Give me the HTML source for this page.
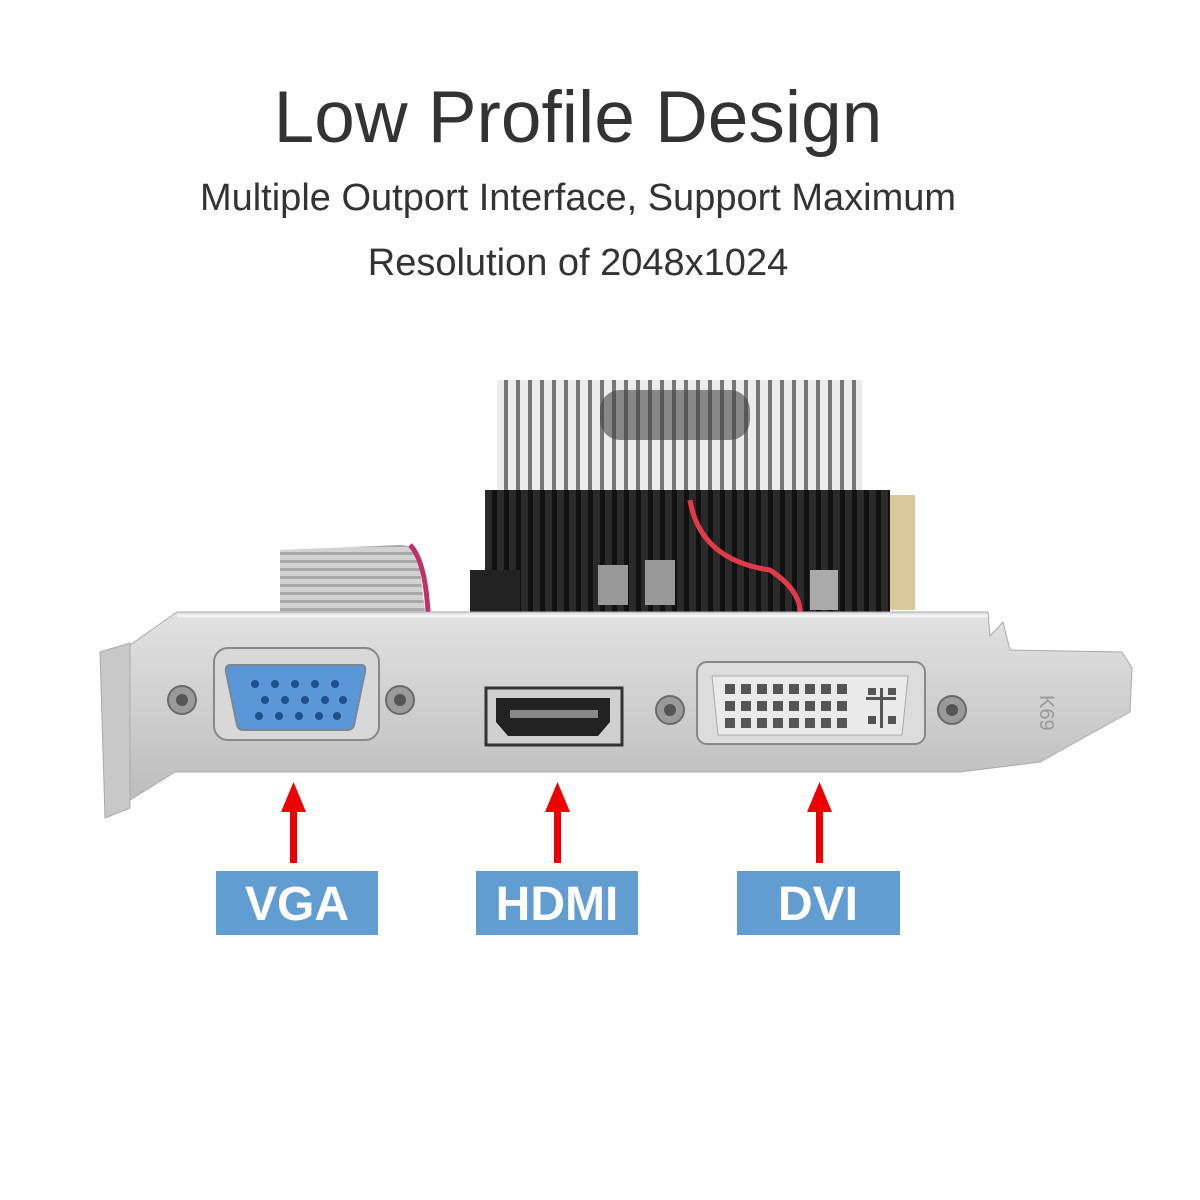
<!DOCTYPE html>
<html><head><meta charset="utf-8"><style>
html,body{margin:0;padding:0;background:#fff;}
body{width:1200px;height:1200px;position:relative;overflow:hidden;font-family:"Liberation Sans",sans-serif;}
.t{position:absolute;left:0;width:1156px;text-align:center;color:#333;}
</style></head><body>
<div class="t" style="top:76px;font-size:73px;">Low Profile Design</div>
<div class="t" style="top:177px;font-size:38px;">Multiple Outport Interface, Support Maximum</div>
<div class="t" style="top:242px;font-size:38px;">Resolution of 2048x1024</div>
<svg width="1200" height="1200" style="position:absolute;left:0;top:0">
<defs>
<pattern id="fins" width="12" height="10" patternUnits="userSpaceOnUse"><rect width="12" height="10" fill="#2a2a2a"/><rect x="0" width="5" height="10" fill="#111"/></pattern>
<pattern id="fins2" width="12" height="10" patternUnits="userSpaceOnUse"><rect width="12" height="10" fill="#ececec"/><rect x="0" width="4" height="10" fill="#777"/></pattern>
<linearGradient id="br" x1="0" y1="0" x2="0" y2="1"><stop offset="0" stop-color="#e2e2e2"/><stop offset="0.5" stop-color="#cfcfcf"/><stop offset="1" stop-color="#bdbdbd"/></linearGradient>
<pattern id="rib" width="8" height="8" patternUnits="userSpaceOnUse"><rect width="8" height="8" fill="#d2d2d2"/><rect width="8" height="3" fill="#a8a8a8"/></pattern>
</defs>
<path d="M280 550 L400 545 Q420 545 420 570 L425 612 L280 612 Z" fill="url(#rib)"/>
<path d="M410 545 Q425 560 428 612" stroke="#c0306a" stroke-width="5" fill="none"/>
<rect x="497" y="380" width="365" height="115" fill="url(#fins2)"/>
<rect x="600" y="390" width="150" height="50" rx="20" fill="#444" opacity="0.6"/>
<rect x="485" y="490" width="405" height="122" fill="url(#fins)"/>
<rect x="890" y="495" width="25" height="115" fill="#d9c99a"/>
<rect x="470" y="570" width="50" height="42" fill="#222"/>
<path d="M690 500 Q700 560 770 570 Q800 590 800 612" stroke="#e23a4a" stroke-width="5" fill="none"/>
<rect x="598" y="565" width="30" height="40" fill="#999"/>
<rect x="645" y="560" width="30" height="45" fill="#999"/>
<rect x="810" y="570" width="28" height="40" fill="#aaa"/>
<polygon points="100,652 130,643 130,808 105,818" fill="#c8c8c8" stroke="#aaa"/>
<polygon points="130,645 177,612 988,612 990,636 1003,622 1010,650 1122,652 1132,668 1130,712 1040,762 960,772 175,772 130,800" fill="url(#br)" stroke="#aaa"/>
<line x1="177" y1="616" x2="988" y2="616" stroke="#f3f3f3" stroke-width="3"/>
<text x="1040" y="695" font-size="20" fill="#999" transform="rotate(90 1040 695)">K69</text>
<g fill="#9a9a9a" stroke="#6a6a6a" stroke-width="2">
<circle cx="182" cy="700" r="14"/><circle cx="400" cy="700" r="14"/><circle cx="670" cy="710" r="14"/><circle cx="952" cy="710" r="14"/></g>
<g fill="#555"><circle cx="182" cy="700" r="6"/><circle cx="400" cy="700" r="6"/><circle cx="670" cy="710" r="6"/><circle cx="952" cy="710" r="6"/></g>
<rect x="214" y="648" width="165" height="92" rx="14" fill="#d8d8d8" stroke="#888" stroke-width="2"/>
<path d="M230 665 L362 665 Q366 665 365 672 L354 725 Q353 730 346 730 L244 730 Q238 730 237 725 L226 672 Q225 665 230 665Z" fill="#5a97d6" stroke="#7b8796" stroke-width="2"/>
<g fill="#1d4f8c">
<circle cx="255" cy="684" r="4"/><circle cx="275" cy="684" r="4"/><circle cx="295" cy="684" r="4"/><circle cx="315" cy="684" r="4"/><circle cx="335" cy="684" r="4"/>
<circle cx="265" cy="700" r="4"/><circle cx="285" cy="700" r="4"/><circle cx="305" cy="700" r="4"/><circle cx="325" cy="700" r="4"/><circle cx="343" cy="700" r="4"/>
<circle cx="259" cy="716" r="4"/><circle cx="279" cy="716" r="4"/><circle cx="299" cy="716" r="4"/><circle cx="319" cy="716" r="4"/><circle cx="337" cy="716" r="4"/></g>
<rect x="486" y="688" width="136" height="57" fill="#d0d0d0" stroke="#333" stroke-width="3"/>
<path d="M496 698 L610 698 L610 722 L598 736 L508 736 L496 722Z" fill="#222"/>
<rect x="510" y="710" width="88" height="8" fill="#888"/>
<rect x="697" y="662" width="228" height="82" rx="10" fill="#dcdcdc" stroke="#888" stroke-width="2"/>
<path d="M712 676 L908 676 L902 735 L718 735Z" fill="#eaeaea" stroke="#aaa"/>
<g fill="#555">
<rect x="725" y="684" width="10" height="10"/><rect x="741" y="684" width="10" height="10"/><rect x="757" y="684" width="10" height="10"/><rect x="773" y="684" width="10" height="10"/><rect x="789" y="684" width="10" height="10"/><rect x="805" y="684" width="10" height="10"/><rect x="821" y="684" width="10" height="10"/><rect x="837" y="684" width="10" height="10"/>
<rect x="725" y="701" width="10" height="10"/><rect x="741" y="701" width="10" height="10"/><rect x="757" y="701" width="10" height="10"/><rect x="773" y="701" width="10" height="10"/><rect x="789" y="701" width="10" height="10"/><rect x="805" y="701" width="10" height="10"/><rect x="821" y="701" width="10" height="10"/><rect x="837" y="701" width="10" height="10"/>
<rect x="725" y="718" width="10" height="10"/><rect x="741" y="718" width="10" height="10"/><rect x="757" y="718" width="10" height="10"/><rect x="773" y="718" width="10" height="10"/><rect x="789" y="718" width="10" height="10"/><rect x="805" y="718" width="10" height="10"/><rect x="821" y="718" width="10" height="10"/><rect x="837" y="718" width="10" height="10"/>
<rect x="866" y="697" width="30" height="3"/><rect x="880" y="688" width="3" height="40"/>
<rect x="868" y="688" width="8" height="7"/><rect x="888" y="688" width="8" height="7"/><rect x="868" y="716" width="8" height="8"/><rect x="888" y="716" width="8" height="8"/></g>
<g fill="#ee0000">
<rect x="290" y="805" width="7" height="58"/><polygon points="281,812 293.5,782 306,812"/>
<rect x="554" y="805" width="7" height="58"/><polygon points="545,812 557.5,782 570,812"/>
<rect x="816" y="805" width="7" height="58"/><polygon points="807,812 819.5,782 832,812"/>
</g>
<g fill="#629dd2"><rect x="216" y="871" width="162" height="64"/><rect x="476" y="871" width="162" height="64"/><rect x="737" y="871" width="163" height="64"/></g>
<g fill="#fff" font-family="Liberation Sans, sans-serif" font-weight="bold" font-size="48" text-anchor="middle">
<text x="297" y="920">VGA</text><text x="557" y="920">HDMI</text><text x="818" y="920">DVI</text></g>
</svg>
</body></html>
